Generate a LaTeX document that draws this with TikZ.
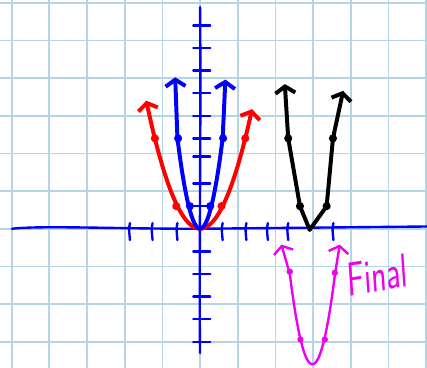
\documentclass[tikz,border=0pt]{standalone}
\usepackage{amsmath,amssymb}
\usetikzlibrary{arrows.meta}
\definecolor{gridblue}{RGB}{180,212,232}
\definecolor{pen}{RGB}{238,0,238}
\begin{document}
\begin{tikzpicture}[x=0.6cm,y=0.6cm,line cap=round,line join=round,
  barb/.style={{Straight Barb[length=5pt,width=15pt]}-{Straight Barb[length=5pt,width=15pt]}},
  curve/.style={line width=3pt,barb},
  axis/.style={blue,line width=1.8pt}]
\useasboundingbox (-8.85,-6.13) rectangle (10.04,10.12);
\draw[gridblue,line width=1.3pt] (-8.85,-6.13) grid (10.04,10.12);
\draw[axis] (-8.32,0) .. controls (-7,0.15) and (-4,0) .. (0,0) -- (10.04,0.1);
\draw[axis] (0,9.8) .. controls (0.05,5) and (-0.05,-2) .. (0,-5.5);
\foreach \y in {-5,...,-1,1,2,3.2,4,5,...,9} \draw[axis] (-0.3,\y) -- (0.45,\y);
\foreach \x in {-3.1,-2.1,-1,1,2.05,3,3.9,5.9} \draw[axis] (\x,0.25) .. controls (\x-0.05,0) .. (\x,-0.5);
\draw[red,curve] plot[domain=-2.38:2.3,smooth,samples=30] (\x,{\x*\x});
\foreach \p in {(-2,4),(-1.05,1),(0.95,1),(2,4)} \fill[red] \p circle[radius=0.18];
\draw[blue,curve] (-1.1,6.7) -- (-1,4) -- plot[domain=-1:1,smooth,samples=21] (\x,{4*\x*\x}) -- (1.12,6.6);
\foreach \p in {(-0.97,4),(-0.45,1),(0.45,1),(1.02,4)} \fill[blue] \p circle[radius=0.18];
\draw[black,curve] (3.75,6.4) -- (3.9,4) -- (4.42,1) -- (4.85,-0.05) -- (5.6,1) -- (5.88,4) -- (6.33,6.1);
\foreach \p in {(3.9,4),(4.42,1),(5.6,1),(5.88,4)} \fill[black] \p circle[radius=0.18];
\draw[pen,line width=1.8pt,barb] (3.6,-0.7) -- (3.97,-2) -- plot[domain=3.97:5.97,smooth,samples=21] (\x,{4*(\x-4.97)*(\x-4.97)-6}) -- (6.18,-0.7);
\foreach \p in {(3.97,-1.9),(4.44,-4.9),(5.52,-4.9),(5.96,-1.95)} \fill[pen] \p circle[radius=0.14];
\node[pen,font=\sffamily\fontsize{24}{24}\selectfont,yscale=1.5,rotate=6] (final) at (7.85,-2.05) {Final};
\end{tikzpicture}
\end{document}
